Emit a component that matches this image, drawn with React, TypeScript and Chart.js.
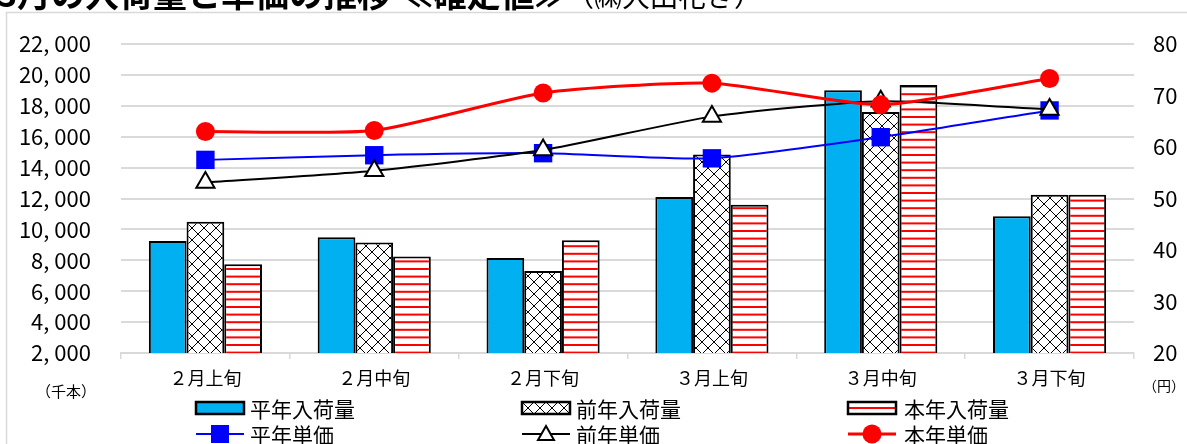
import React, { useEffect, useRef } from 'react';
import { Chart, registerables } from 'chart.js';

Chart.register(...registerables);

// Ten-day periods shown on the category axis
const categories = ['２月上旬', '２月中旬', '２月下旬', '３月上旬', '３月中旬', '３月下旬'];

// Arrivals (thousand stems)
const normalVolume = [9250, 9500, 8150, 12100, 19000, 10850];
const lastYearVolume = [10500, 9150, 7300, 14850, 17600, 12250];
const thisYearVolume = [7750, 8250, 9300, 11600, 19350, 12250];

// Unit prices (yen)
const normalPrice = [57.5, 58.4, 58.8, 57.8, 61.9, 67.1];
const lastYearPrice = [53.1, 55.4, 59.4, 65.9, 68.9, 67.3];
const thisYearPrice = [63.0, 63.2, 70.5, 72.4, 68.2, 73.3];

// Axis ticks
const volumeTicks = [2000, 4000, 6000, 8000, 10000, 12000, 14000, 16000, 18000, 20000, 22000];
const priceTicks = [20, 30, 40, 50, 60, 70, 80];

const TITLE = '3月の入荷量と単価の推移 ≪確定値≫';
const SUBTITLE = '（㈱大田花き）';
const VOLUME_UNIT = '（千本）';
const PRICE_UNIT = '（円）';

const W = 1187;
const H = 444;
const CJK = "'Noto Sans CJK JP', 'Noto Sans', sans-serif";
const NUM = "'Liberation Sans Narrow', 'Noto Sans CJK JP', sans-serif";

const BLUE_FILL = '#00B0F0';

function makeCrossHatch(): CanvasPattern | string {
  const c = document.createElement('canvas');
  c.width = 12;
  c.height = 12;
  const g = c.getContext('2d');
  if (!g) return '#fff';
  g.fillStyle = '#fff';
  g.fillRect(0, 0, 12, 12);
  g.strokeStyle = '#000';
  g.lineWidth = 1;
  g.beginPath();
  g.moveTo(0, 0);
  g.lineTo(12, 12);
  g.moveTo(12, 0);
  g.lineTo(0, 12);
  g.stroke();
  return g.createPattern(c, 'repeat') || '#fff';
}

function makeRedStripes(): CanvasPattern | string {
  const c = document.createElement('canvas');
  c.width = 8;
  c.height = 38;
  const g = c.getContext('2d');
  if (!g) return '#fff';
  g.fillStyle = '#fff';
  g.fillRect(0, 0, 8, 38);
  g.fillStyle = '#FF0000';
  for (let i = 0; i < 5; i++) {
    g.fillRect(0, i * 7.6 + 2, 8, 2);
  }
  return g.createPattern(c, 'repeat') || '#fff';
}

type Marker = 'rect' | 'triangle' | 'circle';

function drawMarker(ctx: CanvasRenderingContext2D, kind: Marker, x: number, y: number) {
  ctx.save();
  if (kind === 'rect') {
    ctx.fillStyle = '#0000FF';
    ctx.fillRect(x - 9, y - 9, 18, 18);
  } else if (kind === 'circle') {
    ctx.fillStyle = '#FF0000';
    ctx.beginPath();
    ctx.arc(x, y, 9.5, 0, Math.PI * 2);
    ctx.fill();
  } else {
    ctx.fillStyle = '#fff';
    ctx.strokeStyle = '#000';
    ctx.lineWidth = 2;
    ctx.beginPath();
    ctx.moveTo(x, y - 8);
    ctx.lineTo(x + 8, y + 6);
    ctx.lineTo(x - 8, y + 6);
    ctx.closePath();
    ctx.fill();
    ctx.stroke();
  }
  ctx.restore();
}

export default function App() {
  const canvasRef = useRef<HTMLCanvasElement | null>(null);

  useEffect(() => {
    document.body.style.margin = '0';
    document.body.style.overflow = 'hidden';
    const canvas = canvasRef.current;
    if (!canvas) return;

    const hatch = makeCrossHatch();
    const stripes = makeRedStripes();

    // Sheet frame, title, axis units and legend drawn around the plot
    const decor = {
      id: 'sheetDecor',
      beforeDraw(chart: Chart) {
        const ctx = chart.ctx;
        ctx.save();
        ctx.strokeStyle = '#d9d9d9';
        ctx.lineWidth = 1.5;
        ctx.strokeRect(6.5, 12.5, W + 50, H + 50);
        ctx.restore();
      },
      afterDraw(chart: Chart) {
        const ctx = chart.ctx;
        ctx.save();
        ctx.fillStyle = '#000';
        ctx.textBaseline = 'alphabetic';
        ctx.textAlign = 'left';
        ctx.font = `bold 34px ${CJK}`;
        ctx.fillText(TITLE, -3, 7);
        ctx.font = `28px ${CJK}`;
        ctx.fillText(SUBTITLE, 566, 7);

        ctx.textBaseline = 'middle';
        ctx.textAlign = 'center';
        ctx.font = `15px ${CJK}`;
        ctx.fillText(VOLUME_UNIT, 66, 391);
        ctx.font = `14px ${CJK}`;
        ctx.fillText(PRICE_UNIT, 1164, 386);

        // Legend
        const symX = [196, 522, 848];
        const textX = [250, 576, 904];
        const rowY = [408, 434];
        const symW = 48;
        const barFills: (CanvasPattern | string)[] = [BLUE_FILL, hatch, '#fff'];
        const barLabels = chart.data.datasets.slice(0, 3).map((d) => String(d.label));
        const lineLabels = chart.data.datasets.slice(3, 6).map((d) => String(d.label));
        const lineColors = ['#0000FF', '#000000', '#FF0000'];
        const lineWidths = [2, 2, 3];
        const markers: Marker[] = ['rect', 'triangle', 'circle'];

        ctx.textAlign = 'left';
        ctx.font = `21px ${CJK}`;
        for (let i = 0; i < 3; i++) {
          const x = symX[i];
          const y = rowY[0];
          ctx.fillStyle = barFills[i] as any;
          ctx.fillRect(x, y - 6, symW, 12);
          if (i === 2) {
            ctx.fillStyle = '#FF0000';
            ctx.fillRect(x, y - 1, symW, 2);
          }
          ctx.strokeStyle = '#000';
          ctx.lineWidth = 2.5;
          ctx.strokeRect(x, y - 6, symW, 12);
          ctx.fillStyle = '#000';
          ctx.fillText(barLabels[i], textX[i], y + 1);
        }
        for (let i = 0; i < 3; i++) {
          const x = symX[i];
          const y = rowY[1];
          ctx.strokeStyle = lineColors[i];
          ctx.lineWidth = lineWidths[i];
          ctx.beginPath();
          ctx.moveTo(x, y);
          ctx.lineTo(x + symW, y);
          ctx.stroke();
          drawMarker(ctx, markers[i], x + symW / 2, y);
          ctx.fillStyle = '#000';
          ctx.fillText(lineLabels[i], textX[i], y + 1);
        }
        ctx.restore();
      },
    };

    const barCommon = {
      yAxisID: 'y',
      borderColor: '#000',
      borderWidth: 2,
      borderSkipped: false as const,
      barPercentage: 1,
      categoryPercentage: 0.67,
      order: 10,
    };

    const lineCommon = {
      type: 'line' as const,
      yAxisID: 'y1',
      tension: 0.2,
      fill: false,
    };

    const chart = new Chart(canvas, {
      type: 'bar',
      data: {
        labels: categories,
        datasets: [
          { ...barCommon, label: '平年入荷量', data: normalVolume, backgroundColor: BLUE_FILL },
          { ...barCommon, label: '前年入荷量', data: lastYearVolume, backgroundColor: hatch as any },
          { ...barCommon, label: '本年入荷量', data: thisYearVolume, backgroundColor: stripes as any },
          {
            ...lineCommon,
            label: '平年単価',
            data: normalPrice,
            borderColor: '#0000FF',
            borderWidth: 2,
            pointStyle: 'rect',
            pointRadius: 13,
            pointBackgroundColor: '#0000FF',
            pointBorderColor: '#0000FF',
            pointBorderWidth: 0,
            order: 3,
          },
          {
            ...lineCommon,
            label: '前年単価',
            data: lastYearPrice,
            borderColor: '#000000',
            borderWidth: 2,
            pointStyle: 'triangle',
            pointRadius: 10.5,
            pointBackgroundColor: '#ffffff',
            pointBorderColor: '#000000',
            pointBorderWidth: 2,
            order: 2,
          },
          {
            ...lineCommon,
            label: '本年単価',
            data: thisYearPrice,
            borderColor: '#FF0000',
            borderWidth: 3,
            pointStyle: 'circle',
            pointRadius: 9.5,
            pointBackgroundColor: '#FF0000',
            pointBorderColor: '#FF0000',
            pointBorderWidth: 0,
            order: 1,
          },
        ] as any,
      },
      options: {
        responsive: false,
        animation: false,
        devicePixelRatio: 1,
        layout: { padding: { top: 44, left: 0, right: 0, bottom: 0 } },
        plugins: {
          legend: { display: false },
          title: { display: false },
          tooltip: { enabled: false },
        },
        scales: {
          x: {
            grid: {
              drawOnChartArea: false,
              drawTicks: true,
              tickLength: 6,
              color: '#d9d9d9',
              lineWidth: 1.5,
              offset: true,
            },
            border: { display: true, color: '#d9d9d9', width: 2 },
            ticks: {
              color: '#000',
              font: { family: CJK, size: 18 },
              padding: 8,
              maxRotation: 0,
            },
            afterFit(scale: any) {
              scale.height = 91;
            },
          },
          y: {
            position: 'left',
            min: 2000,
            max: 22000,
            grid: { color: '#dadada', lineWidth: 2, drawTicks: false },
            border: { display: false },
            ticks: {
              color: '#000',
              font: { family: NUM, size: 22 },
              padding: 30,
              callback: (v: any) => Number(v).toLocaleString('en-US').replace(',', ', '),
            },
            afterBuildTicks(scale: any) {
              scale.ticks = volumeTicks.map((value) => ({ value }));
            },
            afterFit(scale: any) {
              scale.width = 121;
            },
          },
          y1: {
            position: 'right',
            min: 20,
            max: 80,
            grid: { drawOnChartArea: false, drawTicks: false },
            border: { display: false },
            ticks: {
              color: '#000',
              font: { family: NUM, size: 22 },
              padding: 19,
            },
            afterBuildTicks(scale: any) {
              scale.ticks = priceTicks.map((value) => ({ value }));
            },
            afterFit(scale: any) {
              scale.width = 53;
            },
          },
        },
      } as any,
      plugins: [decor as any],
    });

    return () => {
      chart.destroy();
    };
  }, []);

  return (
    <div style={{ position: 'relative', width: W, height: H, background: '#fff' }}>
      <canvas ref={canvasRef} width={W} height={H} style={{ display: 'block' }} />
    </div>
  );
}
